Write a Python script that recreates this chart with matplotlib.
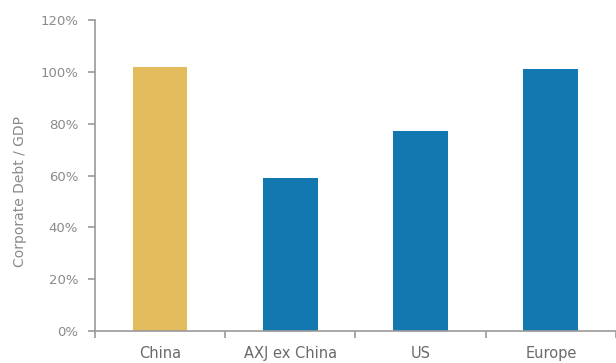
import matplotlib.pyplot as plt
from matplotlib.ticker import FixedLocator, PercentFormatter

regions = ['China', 'AXJ ex China', 'US', 'Europe']
debt_pct = [102, 59, 77, 101]
bar_colors = ['#E3BC5E', '#1478B0', '#1478B0', '#1478B0']

grey = '#9a9a9a'
text_grey = '#8a8a8a'

fig = plt.figure(figsize=(6.16, 3.63), dpi=100)
ax = fig.add_axes([0.154, 0.088, 0.846, 0.857])

x = list(range(len(regions)))
ax.bar(x, debt_pct, width=0.42, color=bar_colors)

ax.set_xlim(-0.5, len(regions) - 0.5)
ax.set_ylim(0, 120)
ax.set_yticks(range(0, 121, 20))
ax.yaxis.set_major_formatter(PercentFormatter(decimals=0))

# category boundaries as tick marks, names centred under bars
ax.xaxis.set_major_locator(FixedLocator([i - 0.5 for i in range(len(regions) + 1)]))
ax.xaxis.set_major_formatter(plt.NullFormatter())
ax.xaxis.set_minor_locator(FixedLocator(x))
ax.set_xticklabels(regions, minor=True)
ax.tick_params(axis='x', which='minor', length=0, pad=11, labelsize=10.5, labelcolor='#6a6a6a')
ax.tick_params(axis='x', which='major', length=5, direction='out', color=grey, width=1.2)
ax.tick_params(axis='y', length=5, direction='out', color=grey, width=1.2,
               labelsize=9.5, labelcolor=text_grey, pad=7)

for side in ['top', 'right']:
    ax.spines[side].set_visible(False)
for side in ['left', 'bottom']:
    ax.spines[side].set_color(grey)
    ax.spines[side].set_linewidth(1.2)

ax.set_ylabel('Corporate Debt / GDP', fontsize=10, color=text_grey)
ax.yaxis.set_label_coords(-0.13, 0.45)

fig.savefig('out.png', dpi=100)
